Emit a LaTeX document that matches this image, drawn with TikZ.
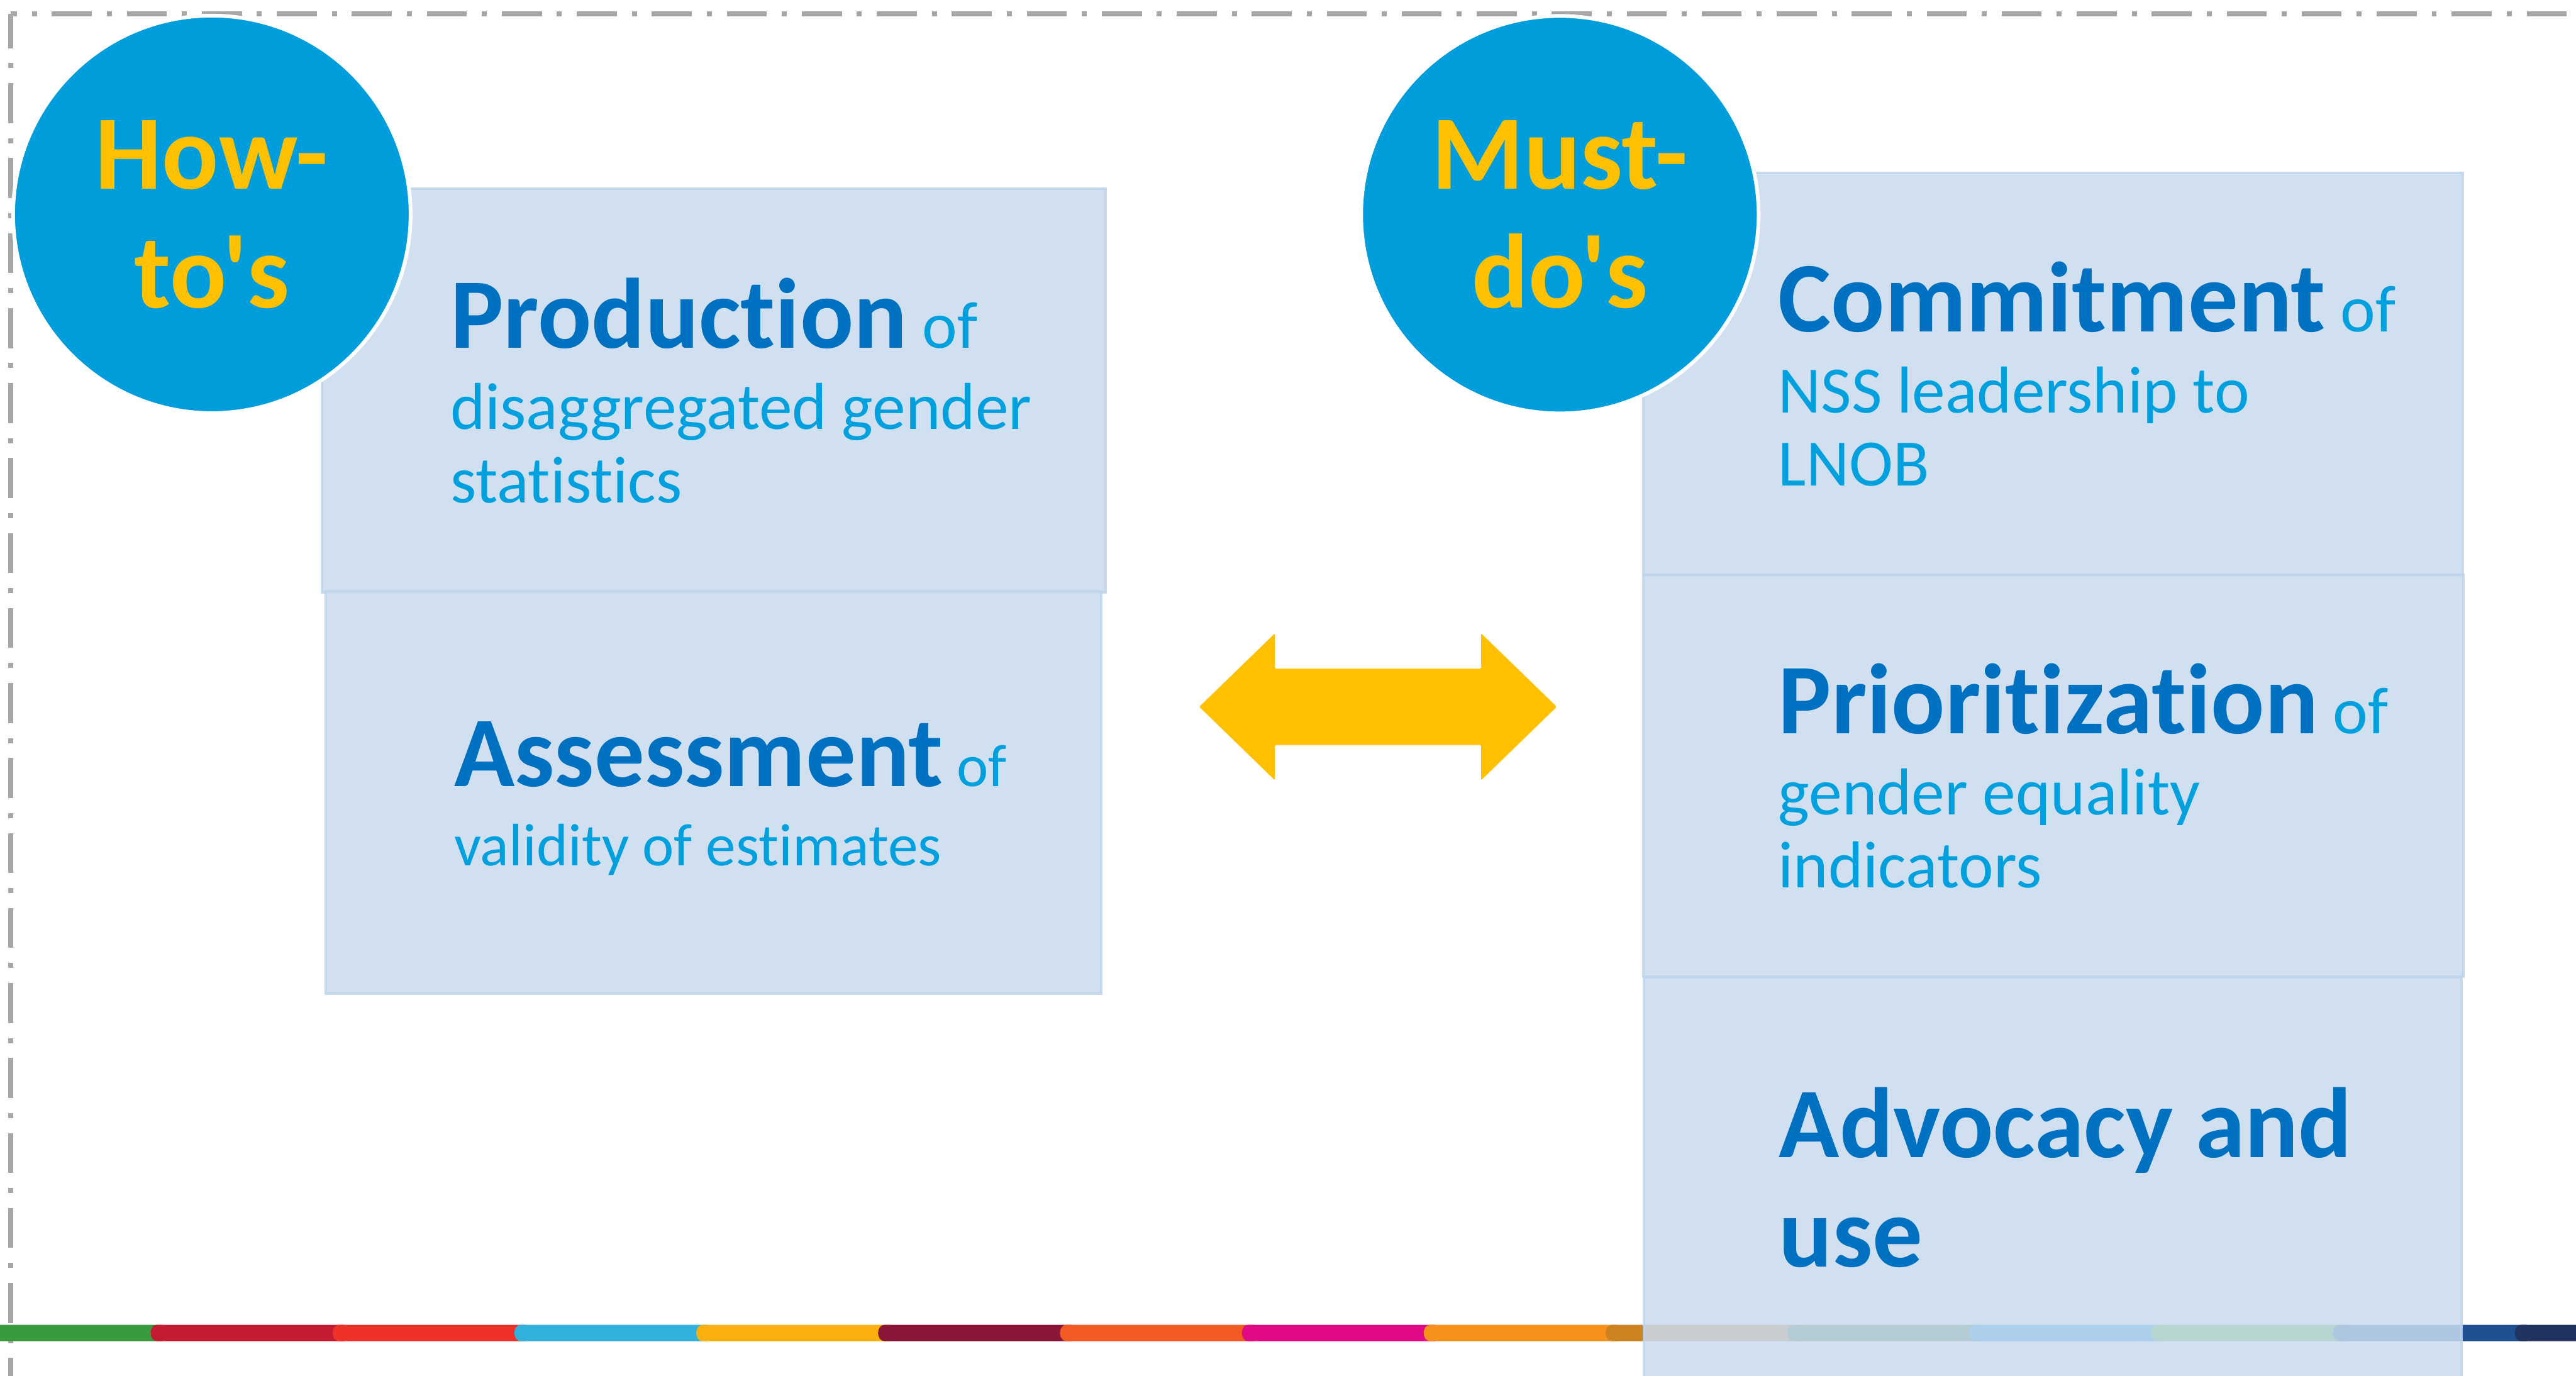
\documentclass[tikz,border=0pt]{standalone}
\usepackage{fontspec}
\setmainfont{Carlito}[Ligatures={TeXOff,NoCommon}]

\definecolor{badgeblue}{HTML}{009DDC}
\definecolor{gold}{HTML}{FFC000}
\definecolor{headblue}{HTML}{0070C0}
\definecolor{bodyblue}{HTML}{00A0DE}
\definecolor{panelfill}{HTML}{C9DBEF}
\definecolor{paneledge}{HTML}{BFD4EB}
\definecolor{rimgrey}{HTML}{A6A6A6}
% goal colours for the strip along the bottom
\definecolor{sdgiii}{HTML}{389A3F}
\definecolor{sdgiv}{HTML}{C31B32}
\definecolor{sdgv}{HTML}{EF3227}
\definecolor{sdgvi}{HTML}{30B0DB}
\definecolor{sdgvii}{HTML}{F9B00D}
\definecolor{sdgviii}{HTML}{8B1536}
\definecolor{sdgix}{HTML}{F15A22}
\definecolor{sdgx}{HTML}{E00B84}
\definecolor{sdgxi}{HTML}{F6911B}
\definecolor{sdgxii}{HTML}{CC8220}
\definecolor{sdgxiii}{HTML}{3F7E44}
\definecolor{sdgxiv}{HTML}{0A97D9}
\definecolor{sdgxv}{HTML}{56C02B}
\definecolor{sdgxvi}{HTML}{1F5190}
\definecolor{sdgxvii}{HTML}{22335F}

\newcommand{\headsize}{\fontsize{45.5pt}{49.8pt}\selectfont}
\newcommand{\bodysize}{\fontsize{30.2pt}{33.3pt}\selectfont}
\newcommand{\smallbodysize}{\fontsize{27.3pt}{33.3pt}\selectfont}
\newcommand{\badgesize}{\fontsize{48.1pt}{54.1pt}\selectfont}
\newcommand{\lead}[1]{{\headsize\bfseries\color{headblue}#1}}

\begin{document}
\begin{tikzpicture}[
  panel/.style={rectangle, fill=panelfill, draw=paneledge, line width=0.04cm, opacity=0.85, inner sep=0},
  note/.style={anchor=west, align=left, inner sep=0, text=bodyblue, font=\bodysize},
  badge/.style={circle, fill=badgeblue, draw=white, line width=0.06cm, minimum size=6.36cm, inner sep=0, text=gold, align=center, font=\badgesize\bfseries},
  rim/.style={draw=rimgrey, line width=0.075cm, dash pattern=on 0.64cm off 0.24cm on 0.08cm off 0.24cm}]
  \useasboundingbox (0,0) rectangle (41.22,-22.01);
  \clip (0,0) rectangle (41.22,-22.01);

  % dash-dot frame, only its top and left sides fall on the page
  \draw [rim, dash phase=0.09cm] (0.17,-0.22) -- (0.17,-22.5);
  \draw [rim, dash phase=0.54cm] (0.17,-0.22) -- (41.5,-0.22);

  % colour strip
  \foreach \c [count=\i] in {sdgiii,sdgiv,sdgv,sdgvi,sdgvii,sdgviii,sdgix,sdgx,sdgxi,sdgxii,sdgxiii,sdgxiv,sdgxv,sdgxvi,sdgxvii} {
    \pgfmathsetmacro{\x}{2.41+(\i-2)*2.91}
    \fill [\c] (\x+0.1,-21.46) arc [start angle=-90, end angle=-270, x radius=0.1, y radius=0.13]
      -- (\x+3.1,-21.20) -- (\x+3.1,-21.46) -- cycle;
  }

  % left column
  \node [panel, minimum width=12.54cm, minimum height=6.46cm] (prod) at (11.42,-6.25) {};
  \node [panel, minimum width=12.41cm, minimum height=6.44cm] (assess) at (11.415,-12.68) {};
  \node [note] (prodtxt) at ([xshift=2.07cm]prod.west) {\lead{Production} of\\[0.13cm]disaggregated gender\\statistics};
  \node [note, font=\smallbodysize] (assesstxt) at ([xshift=2.07cm,yshift=-0.1cm]assess.west) {\lead{Assessment} of\\[0.1cm]validity of estimates};

  % right column
  \node [panel, minimum width=13.11cm, minimum height=6.43cm] (commit) at (32.855,-5.985) {};
  \node [panel, minimum width=13.12cm, minimum height=6.43cm] (prio) at (32.86,-12.415) {};
  \node [panel, minimum width=13.08cm, minimum height=6.41cm] (advo) at (32.85,-18.845) {};
  \node [note] (committxt) at ([xshift=2.17cm]commit.west) {\lead{Commitment} of\\[0.13cm]NSS leadership to\\LNOB};
  \node [note] (priotxt) at ([xshift=2.17cm]prio.west) {\lead{Prioritization} of\\[0.13cm]gender equality\\indicators};
  \node [note, font=\headsize\bfseries, text=headblue] (advotxt) at ([xshift=2.17cm]advo.west) {Advocacy and\\use};

  % two-way arrow between the columns
  \fill [gold, rounded corners=0.5pt] (19.19,-11.31) -- (20.40,-10.135) -- (20.40,-10.70) -- (23.70,-10.70)
    -- (23.70,-10.135) -- (24.91,-11.31) -- (23.70,-12.485) -- (23.70,-11.92)
    -- (20.40,-11.92) -- (20.40,-12.485) -- cycle;

  % round badges
  \node [badge] (howto) at (3.39,-3.43) {How-\\to's};
  \node [badge] (mustdo) at (24.96,-3.435) {Must-\\do's};
\end{tikzpicture}
\end{document}
